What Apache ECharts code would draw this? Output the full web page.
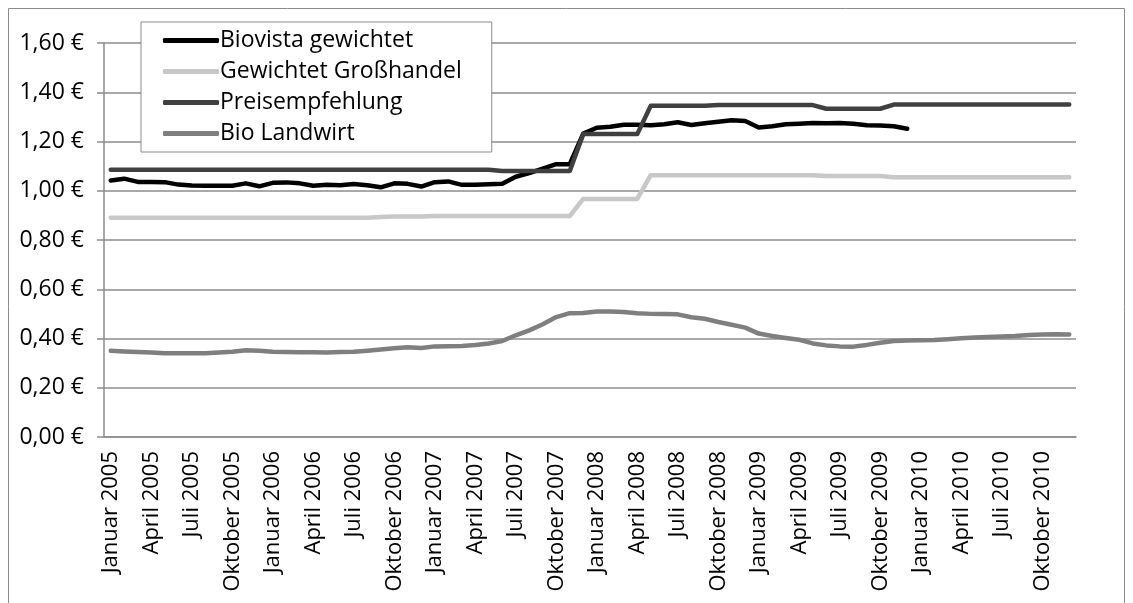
<!DOCTYPE html>
<html>
<head>
<meta charset="utf-8">
<script src="https://cdn.jsdelivr.net/npm/echarts@6/dist/echarts.min.js"></script>
<style>
  html, body { margin: 0; padding: 0; background: #fff; }
  #chart { width: 1133px; height: 603px; }
</style>
</head>
<body>
<div id="chart"></div>
<script>
// Monatsnamen und Jahre für die Kategorieachse
const monate = ["Januar", "Februar", "März", "April", "Mai", "Juni", "Juli", "August", "September", "Oktober", "November", "Dezember"];
const jahre = [2005, 2006, 2007, 2008, 2009, 2010];

// Biovista gewichtet (Jan 2005 - Dez 2009)
const biovista = [
  1.042, 1.049, 1.036, 1.036, 1.035, 1.025, 1.021, 1.020, 1.020, 1.020, 1.030, 1.018,
  1.032, 1.034, 1.030, 1.020, 1.024, 1.022, 1.027, 1.022, 1.014, 1.030, 1.028, 1.017,
  1.035, 1.038, 1.024, 1.024, 1.026, 1.028, 1.057, 1.072, 1.090, 1.108, 1.108, 1.232,
  1.256, 1.260, 1.268, 1.268, 1.266, 1.270, 1.278, 1.267, 1.274, 1.280, 1.286, 1.283,
  1.257, 1.262, 1.270, 1.272, 1.275, 1.274, 1.275, 1.272, 1.266, 1.265, 1.262, 1.252,
  null, null, null, null, null, null, null, null, null, null, null, null
];

// Gewichtet Großhandel
const grosshandel = [
  0.890, 0.890, 0.890, 0.890, 0.890, 0.890, 0.890, 0.890, 0.890, 0.890, 0.890, 0.890,
  0.890, 0.890, 0.890, 0.890, 0.890, 0.890, 0.890, 0.890, 0.893, 0.895, 0.895, 0.895,
  0.897, 0.897, 0.897, 0.897, 0.897, 0.897, 0.897, 0.897, 0.897, 0.897, 0.897, 0.967,
  0.967, 0.967, 0.967, 0.967, 1.063, 1.063, 1.063, 1.063, 1.063, 1.063, 1.063, 1.063,
  1.063, 1.063, 1.063, 1.063, 1.063, 1.060, 1.060, 1.060, 1.060, 1.060, 1.055, 1.055,
  1.055, 1.055, 1.055, 1.055, 1.055, 1.055, 1.055, 1.055, 1.055, 1.055, 1.055, 1.055
];

// Preisempfehlung
const preisempfehlung = [
  1.085, 1.085, 1.085, 1.085, 1.085, 1.085, 1.085, 1.085, 1.085, 1.085, 1.085, 1.085,
  1.085, 1.085, 1.085, 1.085, 1.085, 1.085, 1.085, 1.085, 1.085, 1.085, 1.085, 1.085,
  1.085, 1.085, 1.085, 1.085, 1.085, 1.080, 1.080, 1.080, 1.080, 1.080, 1.080, 1.230,
  1.230, 1.230, 1.230, 1.230, 1.345, 1.345, 1.345, 1.345, 1.345, 1.348, 1.348, 1.348,
  1.348, 1.348, 1.348, 1.348, 1.348, 1.333, 1.333, 1.333, 1.333, 1.333, 1.350, 1.350,
  1.350, 1.350, 1.350, 1.350, 1.350, 1.350, 1.350, 1.350, 1.350, 1.350, 1.350, 1.350
];

// Bio Landwirt
const landwirt = [
  0.350, 0.347, 0.345, 0.343, 0.340, 0.340, 0.340, 0.340, 0.343, 0.346, 0.352, 0.350,
  0.346, 0.345, 0.344, 0.344, 0.343, 0.345, 0.346, 0.350, 0.355, 0.360, 0.364, 0.361,
  0.368, 0.369, 0.370, 0.374, 0.380, 0.390, 0.413, 0.433, 0.458, 0.487, 0.503, 0.504,
  0.510, 0.510, 0.508, 0.503, 0.500, 0.499, 0.498, 0.486, 0.480, 0.467, 0.456, 0.444,
  0.420, 0.410, 0.402, 0.395, 0.380, 0.372, 0.368, 0.367, 0.374, 0.383, 0.390, 0.392,
  0.393, 0.394, 0.397, 0.401, 0.404, 0.406, 0.408, 0.410, 0.414, 0.416, 0.417, 0.416
];

const kategorien = [];
jahre.forEach((j) => monate.forEach((m) => kategorien.push(m + " " + j)));

const schrift = "'Open Sans', 'DejaVu Sans', sans-serif";
const grau = "#8c8c8c";

const mychart = echarts.init(document.getElementById("chart"));

const linie = (name, data, color, z) => ({
  name: name,
  type: "line",
  data: data,
  symbol: "none",
  z: z,
  connectNulls: false,
  lineStyle: { color: color, width: 4.5, cap: "round", join: "round" },
  itemStyle: { color: color },
});

const option = {
  animation: false,
  backgroundColor: "#fff",
  textStyle: { fontFamily: schrift },
  grid: { left: 104, right: 57, top: 43, bottom: 166, containLabel: false },
  graphic: [
    {
      type: "rect",
      silent: true,
      z: -10,
      shape: { x: 8.5, y: 8.5, width: 1116, height: 640 },
      style: { fill: null, stroke: grau, lineWidth: 1 },
    },
  ],
  legend: {
    orient: "vertical",
    left: 141,
    top: 22,
    z: 20,
    padding: [7, 30, 7, 22],
    icon: "roundRect",
    itemWidth: 56,
    itemHeight: 5,
    itemGap: 8,
    backgroundColor: "#fff",
    borderColor: grau,
    borderWidth: 1,
    textStyle: { fontSize: 23, color: "#000", fontFamily: schrift, padding: [0, 0, 0, -4] },
    data: ["Biovista gewichtet", "Gewichtet Großhandel", "Preisempfehlung", "Bio Landwirt"],
  },
  xAxis: {
    type: "category",
    data: kategorien,
    boundaryGap: true,
    axisLine: { lineStyle: { color: grau, width: 1.5 } },
    axisTick: { interval: 2, length: 6, lineStyle: { color: grau, width: 1.5 } },
    axisLabel: {
      interval: 2,
      rotate: 90,
      margin: 14,
      fontSize: 22,
      color: "#000",
      fontFamily: schrift,
    },
    splitLine: { show: false },
  },
  yAxis: {
    type: "value",
    min: 0,
    max: 1.6,
    interval: 0.2,
    axisLine: { show: true, lineStyle: { color: grau, width: 1.5 } },
    axisTick: { show: true, length: 7, lineStyle: { color: grau, width: 1.5 } },
    axisLabel: {
      margin: 20,
      fontSize: 23,
      color: "#000",
      fontFamily: schrift,
      formatter: (v) => v.toFixed(2).replace(".", ",") + " €",
    },
    splitLine: { lineStyle: { color: grau, width: 1.5 } },
  },
  series: [
    linie("Biovista gewichtet", biovista, "#000000", 2),
    linie("Gewichtet Großhandel", grosshandel, "#c8c8c8", 3),
    linie("Preisempfehlung", preisempfehlung, "#404040", 4),
    linie("Bio Landwirt", landwirt, "#7f7f7f", 5),
  ],
};

mychart.setOption(option);
</script>
</body>
</html>
